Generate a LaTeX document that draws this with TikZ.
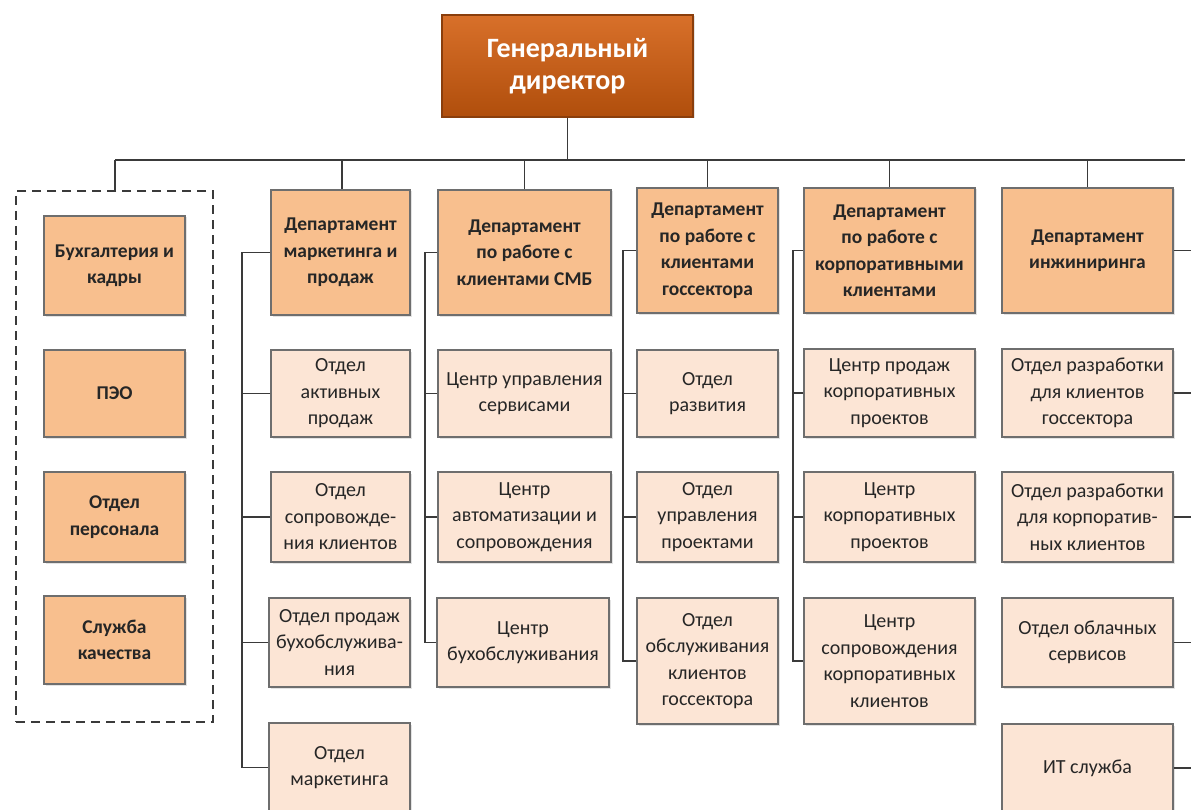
\documentclass[tikz,border=0pt]{standalone}
\usepackage{fontspec}
\setmainfont{Carlito}
\usetikzlibrary{shadows}
\definecolor{gdtop}{HTML}{D8702A}
\definecolor{gdbot}{HTML}{B04E0C}
\definecolor{gdline}{HTML}{8A3E0C}
\definecolor{deptfill}{HTML}{F8BF8E}
\definecolor{unitfill}{HTML}{FCE5D5}
\definecolor{boxline}{HTML}{6E6E6E}
\definecolor{wire}{HTML}{3A3A3A}
\definecolor{txt}{HTML}{262626}
\tikzset{
  basebox/.style={rectangle, inner sep=0pt, align=center, line width=1.4pt,
    draw=boxline, text=txt,
    drop shadow={opacity=0.22, shadow xshift=1.5pt, shadow yshift=-1.5pt}},
  gdbox/.style={basebox, draw=gdline, top color=gdtop, bottom color=gdbot,
    text=white, font=\bfseries\fontsize{28}{32}\selectfont},
  deptbox/.style={basebox, fill=deptfill, font=\bfseries\fontsize{19.5}{26.5}\selectfont},
  unitbox/.style={basebox, fill=unitfill, font=\fontsize{20}{26.5}\selectfont},
  wireline/.style={draw=wire, line width=1.3pt},
}
\newcommand{\bx}[7]{% name, style, x1, y1, x2, y2, text
  \node[#2, minimum width={#5-#3}, minimum height={#6-#4}] (#1) at ({(#3+#5)/2},{(#4+#6)/2}) {#7};}
\begin{document}
\begin{tikzpicture}[x=1pt,y=-1pt]
\fill[white] (0,0) rectangle (1191,810);
\useasboundingbox (0,0) rectangle (1191,810);

% general director
\bx{gd}{gdbox}{442}{15}{693}{117}{Генеральный\\директор}

% dashed group
\node[draw=wire, dashed, dash pattern=on 9pt off 6pt, line width=1.3pt, inner sep=0pt,
  minimum width=197, minimum height=531] (grp) at (114.5,456.5) {};
\bx{l1}{deptbox}{44}{216}{185}{315}{Бухгалтерия и\\кадры}
\bx{l2}{deptbox}{44}{350}{185}{437}{ПЭО}
\bx{l3}{deptbox}{44}{472}{185}{562}{Отдел\\персонала}
\bx{l4}{deptbox}{44}{596}{185}{684}{Служба\\качества}

% marketing
\bx{m0}{deptbox}{271}{190}{410}{315}{Департамент\\маркетинга и\\продаж}
\bx{m1}{unitbox}{271}{350}{410}{437}{Отдел\\активных\\продаж}
\bx{m2}{unitbox}{271}{472}{410}{562}{Отдел\\сопровожде-\\ния клиентов}
\bx{m3}{unitbox}{269}{598}{410}{687}{Отдел продаж\\бухобслужива-\\ния}
\bx{m4}{unitbox}{269}{723}{410}{812}{Отдел\\маркетинга}

% SMB
\bx{s0}{deptbox}{438}{190}{611}{315}{Департамент\\по работе с\\клиентами СМБ}
\bx{s1}{unitbox}{438}{350}{611}{437}{Центр управления\\сервисами}
\bx{s2}{unitbox}{438}{472}{611}{562}{Центр\\автоматизации и\\сопровождения}
\bx{s3}{unitbox}{437}{598}{609}{687}{Центр\\бухобслуживания}

% gos
\bx{g0}{deptbox}{637}{188}{778}{313}{Департамент\\по работе с\\клиентами\\госсектора}
\bx{g1}{unitbox}{637}{350}{778}{437}{Отдел\\развития}
\bx{g2}{unitbox}{637}{472}{778}{562}{Отдел\\управления\\проектами}
\bx{g3}{unitbox}{637}{598}{778}{724}{Отдел\\обслуживания\\клиентов\\госсектора}

% corp
\bx{c0}{deptbox}{804}{188}{975}{313}{Департамент\\по работе с\\корпоративными\\клиентами}
\bx{c1}{unitbox}{804}{349}{975}{437}{Центр продаж\\корпоративных\\проектов}
\bx{c2}{unitbox}{804}{472}{975}{562}{Центр\\корпоративных\\проектов}
\bx{c3}{unitbox}{804}{598}{975}{724}{Центр\\сопровождения\\корпоративных\\клиентов}

% engineering
\bx{e0}{deptbox}{1002}{188}{1173}{313}{Департамент\\инжиниринга}
\bx{e1}{unitbox}{1002}{349}{1173}{437}{Отдел разработки\\для клиентов\\госсектора}
\bx{e2}{unitbox}{1002}{472}{1173}{562}{Отдел разработки\\для корпоратив-\\ных клиентов}
\bx{e3}{unitbox}{1002}{598}{1173}{687}{Отдел облачных\\сервисов}
\bx{e4}{unitbox}{1002}{724}{1173}{812}{ИТ служба}

% top bus
\coordinate (busL) at (115,160);
\coordinate (busR) at (1185,160);
\draw[wireline] (gd.south) -- (gd.south |- busL);
\draw[wireline] (busL) -- (busR);
\draw[wireline] (busL) -- (busL |- grp.north);
\draw[wireline] (342,160) coordinate (dm) -- (dm |- m0.north);
\draw[wireline] (s0.north |- busL) -- (s0.north);
\draw[wireline] (g0.north |- busL) -- (g0.north);
\draw[wireline] (c0.north |- busL) -- (c0.north);
\draw[wireline] (e0.north |- busL) -- (e0.north);

% column buses
\coordinate (mb) at (242,0);
\coordinate (sb) at (425,0);
\coordinate (gb) at (623,0);
\coordinate (cb) at (793,0);
\coordinate (eb) at (1195,0);
\draw[wireline] (m0.west) -- (m0.west -| mb) |- (m4.west);
\foreach \n in {m1,m2,m3} \draw[wireline] (\n.west) -- (\n.west -| mb);
\draw[wireline] (s0.west) -- (s0.west -| sb) |- (s3.west);
\foreach \n in {s1,s2} \draw[wireline] (\n.west) -- (\n.west -| sb);
\draw[wireline] (g0.west) -- (g0.west -| gb) |- (g3.west);
\foreach \n in {g1,g2} \draw[wireline] (\n.west) -- (\n.west -| gb);
\draw[wireline] (c0.west) -- (c0.west -| cb) |- (c3.west);
\foreach \n in {c1,c2} \draw[wireline] (\n.west) -- (\n.west -| cb);
\foreach \n in {e0,e1,e2,e3,e4} \draw[wireline] (\n.east) -- (\n.east -| eb);
\end{tikzpicture}
\end{document}
